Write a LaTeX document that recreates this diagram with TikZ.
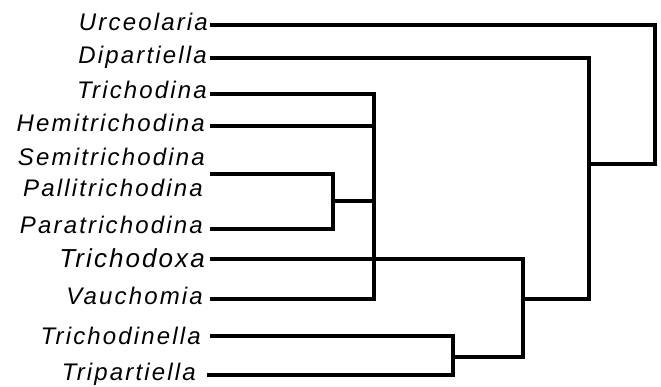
\documentclass[tikz,border=0pt]{standalone}
\usepackage{fontspec}
\setmainfont{Liberation Sans}
\newfontfamily\labfont[LetterSpace=9]{Liberation Sans}
\newfontfamily\bigfont[LetterSpace=8]{Liberation Sans}
\begin{document}
\begin{tikzpicture}[x=1pt,y=-1pt,
  taxon/.style={anchor=base east, inner sep=0pt, font=\labfont\itshape\fontsize{24pt}{24pt}\selectfont},
  bigtaxon/.style={anchor=base east, inner sep=0pt, font=\bigfont\itshape\fontsize{26pt}{26pt}\selectfont},
  branch/.style={line width=3.2pt, line join=miter, line cap=butt}]
\useasboundingbox (0,0) rectangle (661,387);
% labels
\node[taxon] (Lurc) at (208,31) {Urceolaria};
\node[taxon] (Ldip) at (207,64) {Dipartiella};
\node[taxon] (Ltri) at (207,99) {Trichodina};
\node[taxon] (Lhem) at (205,132) {Hemitrichodina};
\node[taxon] (Lsem) at (205,166) {Semitrichodina};
\node[taxon] (Lpal) at (203,197) {Pallitrichodina};
\node[taxon] (Lpar) at (203,234) {Paratrichodina};
\node[bigtaxon] (Ltdx) at (205,268) {Trichodoxa};
\node[taxon] (Lvau) at (203,305) {Vauchomia};
\node[taxon] (Ltrl) at (201,344) {Trichodinella};
\node[taxon] (Ltrp) at (196,380) {Tripartiella};
% tips
\coordinate (tUrc) at (210,25);
\coordinate (tDip) at (210,58);
\coordinate (tTri) at (210,94);
\coordinate (tHem) at (210,126);
\coordinate (tPal) at (210,174);
\coordinate (tPar) at (210,229);
\coordinate (tTdx) at (210,259);
\coordinate (tVau) at (210,299);
\coordinate (tTrl) at (210,336);
\coordinate (tTrp) at (207,375);
% internal points
\coordinate (r1) at (655,164);
\coordinate (a1) at (589,164);
\coordinate (a2) at (589,299);
\coordinate (b0) at (523,299);
\coordinate (b1) at (523,259);
\coordinate (b2) at (523,357);
\coordinate (c2) at (374,299);
\coordinate (cHem) at (374,126);
\coordinate (cPP) at (374,201);
\coordinate (cTdx) at (374,259);
\coordinate (d1) at (333,201);
\coordinate (d2) at (333,229);
\coordinate (e1) at (453,357);
\coordinate (e2) at (453,375);
% branches
\draw[branch] (tUrc) -| (r1) -- (a1);
\draw[branch] (tDip) -| (a2) -- (b0);
\draw[branch] (tTri) -| (c2) -- (tVau);
\draw[branch] (tHem) -- (cHem);
\draw[branch] (tPal) -| (d2) -- (tPar);
\draw[branch] (d1) -- (cPP);
\draw[branch] (tTdx) -- (cTdx) -- (b1) -- (b2) -- (e1);
\draw[branch] (tTrl) -| (e2) -- (tTrp);
\end{tikzpicture}
\end{document}
